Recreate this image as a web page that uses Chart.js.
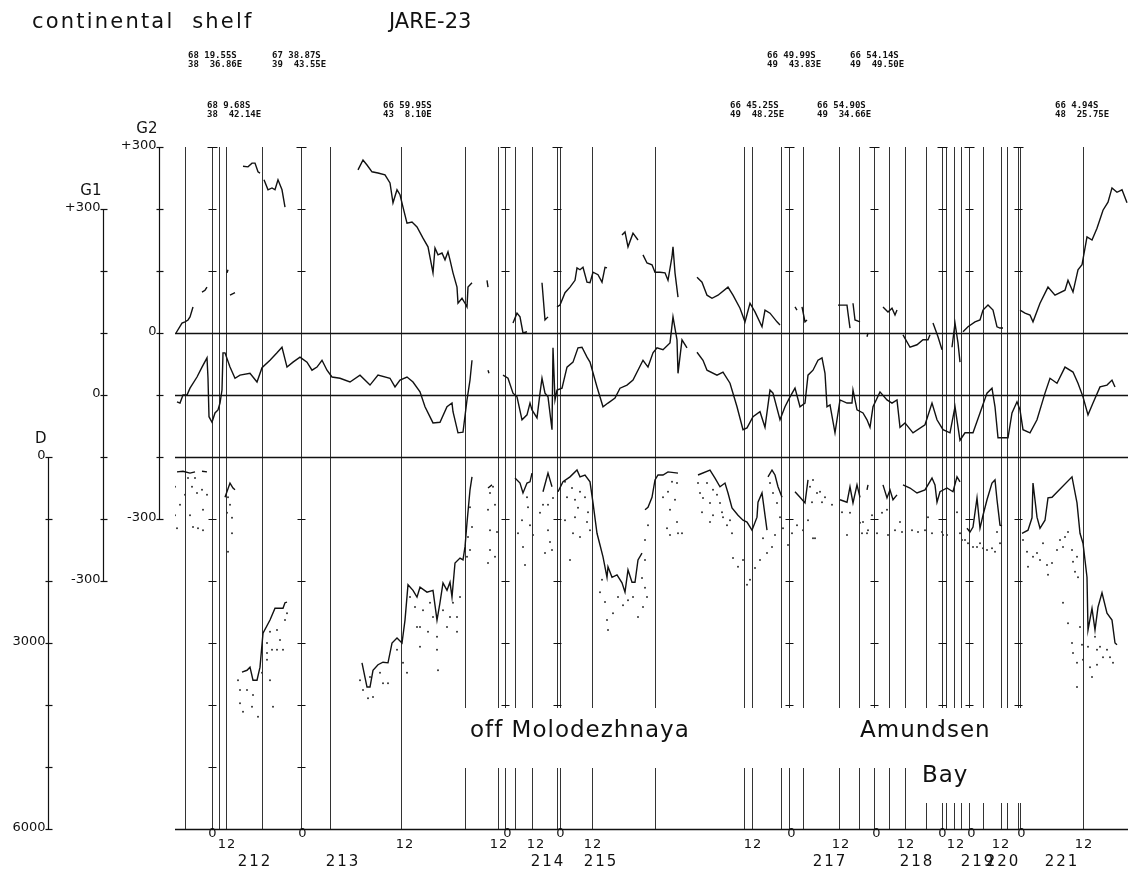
<!DOCTYPE html>
<html><head><meta charset="utf-8">
<script src="https://cdn.jsdelivr.net/npm/chart.js@4.4.1/dist/chart.umd.min.js"></script>
<style>html,body{margin:0;padding:0;background:#fff}canvas{display:block}</style>
</head><body>
<canvas id="c" width="1133" height="875"></canvas>
<script>
// ---- DATA (x = relative track distance along the ship route) ----
// G2 gravity anomaly (mGal); null = gap
const g2Dist = [1,7,10,13,15,18,null,27,30,32,null,52,53,null,55,60,null,68,73,77,80,83,85,null,89,93,97,100,103,107,110,null,
183,188,192,197,203,210,215,218,222,225,228,232,237,242,248,253,258,260,263,267,270,273,275,278,282,283,287,290,292,293,297,null,
312,313,null,338,342,345,348,352,null,367,370,373,null,382,385,390,395,400,402,405,408,412,415,418,423,427,430,432,null,
447,450,453,458,463,null,468,472,477,480,485,490,493,497,498,500,503,null,
522,527,532,537,543,553,558,565,570,575,580,587,590,595,602,605,null,620,622,null,627,630,632,null,
663,672,673,675,null,678,680,685,null,692,693,null,708,713,717,720,722,null,728,735,742,748,753,755,null,758,763,767,null,
777,780,783,785,null,788,793,800,805,808,813,818,822,825,828,null,
845,850,855,858,865,873,880,890,893,898,903,907,912,917,922,928,933,937,942,947,952];
const g2Val = [0,16,18,21,26,42,null,66,69,74,null,97,102,null,61,65,null,269,268,274,274,260,258,null,247,231,234,231,247,231,203,null,
263,279,271,260,258,255,242,210,231,223,203,177,179,171,153,139,97,137,126,129,118,131,118,97,74,48,56,48,42,74,81,null,
85,74,null,16,32,26,0,2,null,81,21,26,null,42,45,65,74,85,105,102,106,82,81,98,94,82,106,105,null,
158,163,139,161,150,null,126,113,110,98,98,97,85,123,139,97,58,null,
90,82,61,56,61,74,61,40,18,48,34,10,37,32,18,13,null,42,37,null,42,18,21,null,
45,45,32,8,null,48,21,18,null,-6,0,null,42,34,40,29,37,null,-3,-23,-19,-11,-11,-3,null,16,-6,-27,null,
-23,16,-16,-47,null,2,10,18,21,37,45,37,10,8,8,null,
37,32,29,18,48,74,61,69,85,66,102,110,155,150,169,198,211,234,227,231,210];

// G1 gravity anomaly (mGal)
const g1Dist = [2,5,8,12,15,22,27,32,33,34,37,40,43,45,47,48,50,55,60,65,75,82,87,95,102,107,112,118,125,132,
137,142,147,152,157,165,175,185,195,203,215,220,225,232,238,245,250,258,265,272,277,278,283,288,292,295,297,null,
313,314,null,
328,333,338,342,347,352,355,357,362,365,367,370,373,377,378,380,382,387,392,398,403,407,412,415,422,428,433,440,445,452,
458,468,473,478,482,488,495,498,502,503,507,512,null,
522,528,532,542,548,555,562,568,572,578,585,590,595,598,605,610,615,620,625,630,633,638,643,647,650,652,655,660,665,672,
677,678,682,688,692,695,698,705,712,717,722,725,730,738,750,757,762,768,775,780,785,790,798,805,812,817,820,823,833,837,
842,845,848,855,862,870,875,882,890,898,903,908,913,918,925,932,937,940];
const g1Val = [-11,-13,0,0,11,29,45,60,27,-35,-44,-29,-24,-13,8,68,68,45,27,32,35,21,44,56,68,77,45,53,61,53,
40,45,56,40,29,27,21,32,16,32,27,13,24,29,21,5,-19,-45,-44,-19,-13,-27,-61,-60,-8,24,56,null,
40,35,null,
32,27,3,-3,-40,-32,-13,-24,-37,3,27,3,-3,-56,76,-8,8,11,45,53,76,77,61,53,13,-19,-13,-5,11,16,
24,56,45,68,76,73,84,126,89,35,89,76,null,
69,56,40,32,37,19,-19,-56,-53,-35,-27,-52,8,3,-40,-19,-3,11,-19,-13,32,40,56,60,35,-19,-16,-61,-8,-13,
-13,8,-24,-29,-40,-52,-19,5,-8,-13,-8,-52,-45,-61,-48,-13,-40,-56,-61,-19,-73,-61,-61,-29,3,11,-19,-69,-69,-29,
-11,-24,-56,-61,-40,3,27,19,45,37,19,-3,-32,-13,13,16,24,13];

// Water depth D (m)
const depthDist = [2,8,15,20,null,27,32,null,50,55,58,60,null,67,72,75,78,82,85,88,95,100,108,110,112,null,
187,192,195,198,203,208,213,217,222,227,230,233,238,242,245,252,258,262,265,268,272,275,277,280,285,288,290,292,295,297,null,
313,317,null,340,345,348,352,355,357,null,368,373,377,null,
383,388,395,402,405,410,415,418,422,425,428,432,433,437,442,447,450,453,457,460,463,467,null,
470,473,477,480,483,488,493,503,null,
523,535,540,545,550,553,557,563,568,572,577,582,583,587,592,null,593,597,600,603,607,null,620,625,630,633,null,
665,672,675,678,682,685,null,692,693,null,708,712,715,718,722,null,728,735,742,750,757,760,762,765,772,778,782,785,null,
792,795,798,802,805,808,812,817,820,822,825,827,null,
847,853,857,858,862,865,870,873,877,897,902,905,908,912,913,917,920,923,927,932,937,940,942];
const depthVal = [240,230,260,240,null,230,240,null,650,420,500,530,null,3470,3440,3390,3600,3600,3390,2840,2630,2440,2440,2350,2340,null,
3320,3710,3710,3440,3350,3310,3320,3000,2920,3000,2630,2060,2150,2260,2100,2180,2150,2630,2350,2030,2150,2020,2260,1710,1630,1660,1450,1060,530,320,null,
500,450,null,340,420,580,420,400,260,null,560,260,480,null,
560,400,320,210,320,290,400,740,1230,1420,1610,1940,1770,1940,1900,2030,2180,1820,2020,2020,1660,1550,null,
850,810,650,370,290,290,240,260,null,
290,210,340,480,420,580,820,940,1020,1050,1180,970,730,580,1180,null,320,210,290,480,650,null,560,650,740,370,null,
690,730,480,740,450,650,null,530,450,null,450,660,530,690,610,null,450,500,580,530,340,450,730,560,500,560,320,400,null,
1150,1210,1130,660,1150,940,690,420,370,690,1100,1110,null,
1230,1180,980,420,970,1150,1020,660,650,320,740,1230,1390,1940,2790,2440,2790,2420,2190,2520,2630,3000,3030];

// Secondary depth echoes (dotted)
const dotDist = [0,0,2,10,13,17,20,22,27,28,32,15,18,28,5,23,
53,55,57,57,53,52,
63,65,72,65,68,77,83,78,87,95,
92,95,102,110,105,97,92,102,108,112,98,92,
185,188,193,198,195,205,208,213,222,228,
235,240,245,248,253,258,262,262,263,268,272,275,278,282,282,285,232,245,255,242,
295,297,293,295,292,
315,313,315,315,313,
318,320,322,320,347,348,350,343,353,355,358,352,
365,368,373,373,375,370,377,378,
390,392,397,400,403,405,410,413,415,395,400,390,398,405,412,
425,430,432,433,438,443,448,453,458,463,468,472,470,467,470,470,473,427,
488,493,497,500,502,495,502,503,495,492,507,
523,525,528,532,535,538,542,545,547,548,552,555,557,558,563,568,572,575,580,585,588,592,597,600,535,527,538,
595,598,602,605,608,613,617,622,628,633,637,640,635,
638,642,647,645,638,650,657,667,672,675,685,688,687,692,693,702,697,707,712,713,720,725,727,737,743,750,757,753,767,768,772,
782,785,787,790,793,798,802,805,808,812,817,820,822,825,
848,852,853,858,862,865,868,872,873,877,882,885,888,890,893,897,898,900,902,903,888,893,897,898,902,902,905,907,908,913,917,920,922,925,928,932,935,938,915,922];
const dotDepth = [480,940,1150,610,340,480,340,580,530,850,610,940,1130,1180,770,1150,
650,770,980,1230,1530,900,
3600,3760,3760,3970,4110,4030,4190,3840,3480,3600,
3000,2820,2790,2630,2950,3110,3160,3110,3110,2520,4030,3270,
3600,3760,3890,3870,3550,3480,3650,3650,3110,3320,
2260,2420,2740,2470,2820,2580,2900,3110,3440,2470,2740,2580,2350,2580,2820,2260,3480,3060,2350,2740,
810,1130,1290,1500,1610,
580,850,1180,1500,1710,
480,770,1210,1610,1020,1450,1740,1230,810,1100,1260,650,
900,770,770,1180,1370,1550,1500,660,
400,650,500,690,820,560,650,890,1180,1660,970,1020,1230,1290,1050,
2180,2340,2630,2790,2520,2260,2390,2310,2260,2580,2420,2260,2110,1950,1660,1340,1100,1980,
650,560,400,690,420,850,1050,1230,1260,1150,1230,
420,580,660,420,740,530,610,740,890,970,1100,1020,1230,1630,1770,1660,2060,1980,1790,1660,1310,1550,1450,1260,1050,890,940,
420,580,740,970,1150,1420,1230,1100,1180,1020,730,1310,480,
370,580,730,560,1310,650,770,890,1260,900,1060,1050,1230,1230,1180,1230,940,900,850,1260,1180,1050,1210,1180,1210,1180,1230,970,1210,1260,1260,
890,1230,1340,1340,1390,1450,1450,1390,1470,1500,1470,1530,1210,1390,
1340,1530,1770,1610,1550,1660,1390,1740,1900,1710,1500,1340,1450,1290,1210,1500,1690,1850,1610,1940,2350,2680,3000,3160,3320,3710,2740,3030,3270,3060,3550,2900,3110,3060,3230,3110,3230,3320,3390,3350];

// Event (time mark / course change) lines and 0h ruler lines
const eventDist = [10,36.5,43.5,50.5,86.5,126,155,226,289.5,323,330,340,356.5,381.5,385,416.5,480,568.5,576.5,606,613.5,628,
664,684,699,714,729.5,750.5,766.5,771,779,785.5,793.5,808,826,831.5,842.5,845,908];
const rulerDist = [36.5,126,330,381.5,613.5,699,766.5,793.5,842.5];

// Time labels
const hourDist   = [38,52,128,230,324,333,361,386,418,578,617,666,702,731,768,781,797,826,847,909];
const hourLabels = ['0','12','0','12','12','0','12','0','12','12','0','12','0','12','0','12','0','12','0','12'];
const dayDist    = [80,168,373,426,655,742,803,828,887];
const dayLabels  = ['212','213','214','215','217','218','219','220','221'];

// Position fixes
const fixDist  = [13,97,32,208,592,675,555,642,880];
const fixRow   = [1,1,2,2,1,1,2,2,2];
const fixLat   = ['68 19.55S','67 38.87S','68 9.68S','66 59.95S','66 49.99S','66 54.14S','66 45.25S','66 54.90S','66 4.94S'];
const fixLon   = ['38  36.86E','39  43.55E','38  42.14E','43  8.10E','49  43.83E','49  49.50E','49  48.25E','49  34.66E','48  25.75E'];

// Axis ticks
const gTicks = [300,200,100,0,-100,-200,-300];
const dTicks = [0,1000,2000,3000,4000,5000,6000];

// ---- helpers ----
function zip(xs, ys){
  const out=[]; let lastX=xs[0];
  for(let i=0;i<ys.length;i++){
    if(ys[i]===null||xs[i]===null){ out.push({x:lastX,y:null}); }
    else { out.push({x:xs[i],y:ys[i]}); lastX=xs[i]; }
  }
  return out;
}

const INK='#111';

const drawPlugin = {
  id:'sheet',
  beforeDatasetsDraw(chart){
    const {ctx, chartArea:a, scales:s} = chart;
    ctx.save();
    const top = s.yG2.getPixelForValue(300), bot = s.yD.getPixelForValue(6000);
    ctx.strokeStyle='#333'; ctx.lineWidth=1;
    eventDist.forEach(d=>{
      const x=Math.round(s.x.getPixelForValue(d))+0.5;
      ctx.beginPath(); ctx.moveTo(x,top); ctx.lineTo(x,bot); ctx.stroke();
    });
    ctx.strokeStyle=INK;
    rulerDist.forEach(d=>{
      const x=Math.round(s.x.getPixelForValue(d))+0.5;
      ctx.beginPath(); ctx.moveTo(x-5,Math.round(top)+0.5); ctx.lineTo(x+5,Math.round(top)+0.5); ctx.stroke();
      for(let v=200; v>=-700; v-=100){
        const y=Math.round(s.yG2.getPixelForValue(v))+0.5;
        ctx.beginPath(); ctx.moveTo(x-4,y); ctx.lineTo(x+4,y); ctx.stroke();
      }
    });
    ctx.lineWidth=1.3;
    [[s.yG2,0],[s.yG1,0],[s.yD,0],[s.yD,6000]].forEach(([sc,v])=>{
      const y=Math.round(sc.getPixelForValue(v))+0.5;
      ctx.beginPath(); ctx.moveTo(a.left,y); ctx.lineTo(a.right,y); ctx.stroke();
    });
    ctx.restore();
  },
  afterDatasetsDraw(chart){
    const {ctx} = chart;
    ctx.save();
    ctx.fillStyle='#fff';
    // label backgrounds interrupting the time lines
    ctx.fillRect(462,708,240,60);
    ctx.fillRect(702,708,326,60);
    ctx.fillRect(912,768,116,35);
    ctx.fillStyle=INK;
    ctx.font='23px "DejaVu Sans"';
    ctx.textBaseline='alphabetic'; ctx.textAlign='left';
    ctx.letterSpacing='1px';
    ctx.fillText('off Molodezhnaya', 470, 737);
    ctx.fillText('Amundsen', 860, 737);
    ctx.fillText('Bay', 922, 782);
    ctx.restore();
  },
  afterDraw(chart){
    const {ctx, scales:s} = chart;
    ctx.save();
    ctx.fillStyle=INK; ctx.strokeStyle=INK; ctx.lineWidth=1.2;
    // title
    ctx.font='21px "DejaVu Sans"'; ctx.textAlign='left'; ctx.textBaseline='alphabetic';
    ctx.letterSpacing='2.2px';
    ctx.fillText('continental  shelf', 32, 28);
    ctx.letterSpacing='0px';
    ctx.fillText('JARE-23', 389, 28);
    // vertical axes
    function axis(xPx, sc, ticks, labelMap, title, titleY){
      const y0=sc.getPixelForValue(ticks[0]), y1=sc.getPixelForValue(ticks[ticks.length-1]);
      const x=Math.round(xPx)+0.5;
      ctx.beginPath(); ctx.moveTo(x,y0); ctx.lineTo(x,y1); ctx.stroke();
      ticks.forEach(v=>{
        const y=Math.round(sc.getPixelForValue(v))+0.5;
        ctx.beginPath(); ctx.moveTo(x-3,y); ctx.lineTo(x+4,y); ctx.stroke();
        if(labelMap[v]!==undefined){
          ctx.font='13px "DejaVu Sans"'; ctx.textAlign='right'; ctx.textBaseline='alphabetic';
          ctx.fillText(labelMap[v], x-3, y+1);
        }
      });
      ctx.font='15px "DejaVu Sans"'; ctx.textAlign='right';
      ctx.fillText(title, x-2, titleY);
    }
    axis(159, s.yG2, gTicks, {300:'+300',0:'0','-300':'-300'}, 'G2', 133);
    axis(103, s.yG1, gTicks, {300:'+300',0:'0','-300':'-300'}, 'G1', 195);
    axis(48, s.yD, dTicks, {0:'0',3000:'3000',6000:'6000'}, 'D', 443);
    // position fixes
    ctx.font='bold 9px "DejaVu Sans Mono"'; ctx.textAlign='left'; ctx.textBaseline='middle';
    fixDist.forEach((d,i)=>{
      const x=s.x.getPixelForValue(d);
      const y=fixRow[i]===1?56:106;
      ctx.fillText(fixLat[i], x, y);
      ctx.fillText(fixLon[i], x, y+9);
    });
    // time labels
    ctx.textAlign='center'; ctx.textBaseline='middle';
    ctx.font='13px "DejaVu Sans"';
    ctx.letterSpacing='1px';
    hourDist.forEach((d,i)=>{
      const x=s.x.getPixelForValue(d);
      ctx.fillText(hourLabels[i], x, hourLabels[i]==='0'?834:845);
    });
    ctx.font='15px "DejaVu Sans"';
    ctx.letterSpacing='2px';
    dayDist.forEach((d,i)=>{
      ctx.fillText(dayLabels[i], s.x.getPixelForValue(d), 862);
    });
    ctx.restore();
  }
};

const lineStyle = {borderColor:INK, borderWidth:1.4, pointRadius:0, tension:0, spanGaps:false, fill:false};

new Chart(document.getElementById('c'), {
  type:'line',
  data:{datasets:[
    Object.assign({label:'G2', data:zip(g2Dist,g2Val), xAxisID:'x', yAxisID:'yG2'}, lineStyle),
    Object.assign({label:'G1', data:zip(g1Dist,g1Val), xAxisID:'x', yAxisID:'yG1'}, lineStyle),
    Object.assign({label:'D', data:zip(depthDist,depthVal), xAxisID:'x', yAxisID:'yD'}, lineStyle),
    {type:'scatter', label:'echo', data:zip(dotDist,dotDepth), xAxisID:'x', yAxisID:'yD',
     pointRadius:1, pointBorderWidth:0, backgroundColor:'#333', showLine:false}
  ]},
  options:{
    responsive:false, animation:false, devicePixelRatio:1,
    layout:{padding:{left:175, right:5, top:147, bottom:46}},
    plugins:{legend:{display:false}, tooltip:{enabled:false}, title:{display:false}},
    scales:{
      x:{type:'linear', min:0, max:953, display:false},
      yG2:{type:'linear', position:'left', min:-800, max:300, display:false},
      yG1:{type:'linear', position:'left', min:-700, max:400, display:false},
      yD:{type:'linear', position:'left', min:-5000, max:6000, reverse:true, display:false}
    }
  },
  plugins:[drawPlugin]
});
</script>
</body></html>
